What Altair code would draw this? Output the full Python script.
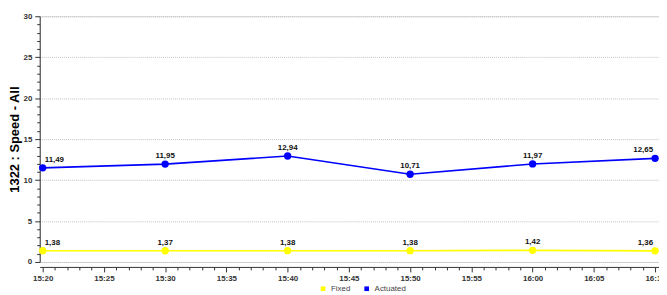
import altair as alt
import pandas as pd

times = ["15:20", "15:30", "15:40", "15:50", "16:00", "16:10"]
fixed = [1.38, 1.37, 1.38, 1.38, 1.42, 1.36]
actuated = [11.49, 11.95, 12.94, 10.71, 11.97, 12.65]
series_names = ["Fixed", "Actuated"]
series_colors = ["#ffff00", "#0000ff"]
y_title = "1322 : Speed - All"


def to_min(t):
    h, m = t.split(":")
    return int(h) * 60 + int(m)


rows = []
for name, vals in zip(series_names, [fixed, actuated]):
    for i, (t, v) in enumerate(zip(times, vals)):
        rows.append({"t": to_min(t), "value": v, "series": name,
                     "label": f"{v:.2f}".replace(".", ","), "idx": i})
df = pd.DataFrame(rows)
last_idx = len(times) - 1

FONT = "Liberation Sans"
x_min = to_min(times[0])
x_max = to_min(times[-1])
x_scale = alt.Scale(domain=[x_min - 0.243, x_max + 0.32], nice=False, zero=False)
y_scale = alt.Scale(domain=[0, 30], nice=False)

x_axis = alt.Axis(
    title=None,
    values=list(range(x_min, x_max + 1)),
    labelExpr="datum.value % 5 == 0 ? (floor(datum.value/60) + ':' + (datum.value % 60 < 10 ? '0' : '') + (datum.value % 60)) : ''",
    tickSize={"condition": {"test": "datum.value % 5 == 0", "value": 5}, "value": 3},
    offset=5,
    grid=False,
    domainColor="#333333",
    tickColor="#333333",
    labelFont=FONT,
    labelFontSize=8,
    labelFontWeight="bold",
    labelColor="#333333",
    labelPadding=3,
    labelFlush=False,
    labelOverlap=False,
)
y_axis = alt.Axis(
    title=y_title,
    values=list(range(0, 31)),
    labelExpr="datum.value % 5 == 0 ? datum.label : ''",
    tickSize={"condition": {"test": "datum.value % 5 == 0", "value": 5}, "value": 3},
    grid=True,
    gridOpacity={"condition": {"test": "datum.value % 5 == 0", "value": 1}, "value": 0},
    gridColor="#c0c0c0",
    gridDash=[1, 1],
    domainColor="#333333",
    tickColor="#333333",
    labelFont=FONT,
    labelFontSize=8,
    labelFontWeight="bold",
    labelColor="#333333",
    labelPadding=3,
    labelOverlap=False,
    titleFont=FONT,
    titleFontSize=13,
    titleFontWeight="bold",
    titleColor="#000000",
    titleAngle=270,
    titleX=-25,
    titleY=124,
    titleAlign="center",
    titleBaseline="middle",
)

color = alt.Color(
    "series:N",
    scale=alt.Scale(domain=series_names, range=series_colors),
    legend=alt.Legend(
        title=None, orient="none", direction="horizontal",
        legendX=282, legendY=271, symbolType="square", symbolSize=22,
        labelFont=FONT, labelFontSize=8, labelColor="#444444",
        columnPadding=12, symbolStrokeWidth=0, labelOffset=4,
    ),
)

base = alt.Chart(df).encode(
    x=alt.X("t:Q", scale=x_scale, axis=x_axis),
    y=alt.Y("value:Q", scale=y_scale, axis=y_axis),
)

lines = base.mark_line(strokeWidth=1.6).encode(color=color, detail="series:N")
points = base.mark_point(filled=True, size=55, opacity=1).encode(color=alt.Color("series:N", scale=alt.Scale(domain=series_names, range=series_colors), legend=None))

text_style = dict(font=FONT, fontSize=8, fontWeight="bold", color="#111111", dy=-8)
t_first = base.mark_text(align="left", dx=2, **text_style).encode(text="label:N").transform_filter("datum.idx == 0")
t_mid = base.mark_text(align="center", **text_style).encode(text="label:N").transform_filter(f"datum.idx > 0 && datum.idx < {last_idx}")
t_last = base.mark_text(align="right", dx=-2, **text_style).encode(text="label:N").transform_filter(f"datum.idx == {last_idx}")

chart = alt.layer(lines, points, t_first, t_mid, t_last).properties(
    width=625, height=248,
    autosize=alt.AutoSizeParams(type="none"),
    padding={"left": 32, "top": 7, "right": 0, "bottom": 32},
).configure_view(stroke=None).configure(background="white")

chart.save("out.html", embed_options={"renderer": "svg", "actions": False})
